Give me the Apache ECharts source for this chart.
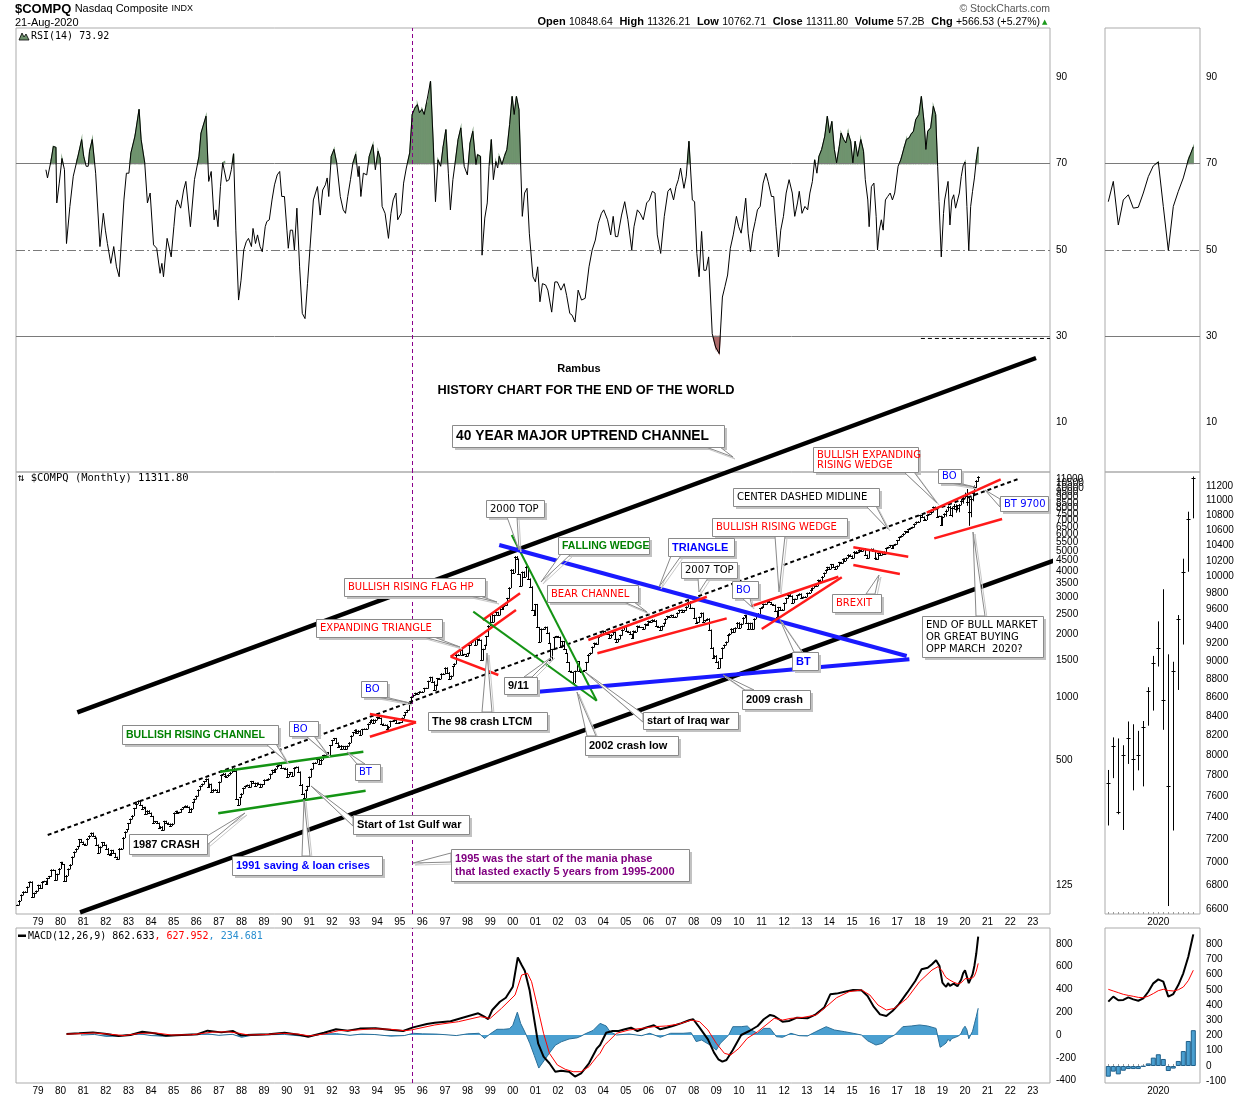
<!DOCTYPE html>
<html><head><meta charset="utf-8">
<script src="https://cdn.jsdelivr.net/npm/echarts@6.0.0/dist/echarts.min.js"></script>
<style>html,body{margin:0;padding:0;background:#fff}#c{width:1250px;height:1100px}</style>
</head><body><div id="c"></div>
<script>
// ---------------- DATA ----------------
const yearLabels = ['79','80','81','82','83','84','85','86','87','88','89','90','91','92','93','94','95','96','97','98','99','00','01','02','03','04','05','06','07','08','09','10','11','12','13','14','15','16','17','18','19','20','21','22','23'];
const firstLabelYear = 1979;
const priceTicks = [125,500,1000,1500,2000,2500,3000,3500,4000,4500,5000,5500,6000,6500,7000,7500,8000,8500,9000,9500,10000,10500,11000,11500];
const rsiTicks = [10,30,50,70,90];
const macdTicks = [-400,-200,0,200,400,600,800];
const miniPriceTicks = [6600,6800,7000,7200,7400,7600,7800,8000,8200,8400,8600,8800,9000,9200,9400,9600,9800,10000,10200,10400,10600,10800,11000,11200];
const miniMacdTicks = [-100,0,100,200,300,400,500,600,700,800];
const miniYearLabel = '2020';

// Monthly closes of $COMPQ, Feb 1978 .. Aug 2020
const closeStartYear = 1978, closeStartMonth = 2;
const closes = [
 101.0,106.2,113.0,117.0,116.1,123.4,130.0,130.5,110.1,115.2,118.0,
 125.8,121.4,130.8,131.4,127.6,135.5,138.6,149.0,148.0,132.9,142.1,151.1,
 161.8,158.0,131.0,139.9,150.5,157.8,171.8,181.5,187.8,192.8,208.2,202.3,
 197.8,196.3,210.2,216.7,223.5,215.8,211.6,196.0,180.0,192.0,201.4,195.8,
 188.4,178.3,175.7,184.7,178.5,171.3,167.4,188.3,188.0,212.6,226.4,232.4,
 248.4,260.7,270.8,293.1,308.7,318.7,303.0,292.4,296.7,274.9,285.7,278.6,
 268.4,250.8,253.8,249.2,234.9,239.7,230.8,254.6,249.9,247.0,242.5,247.4,
 278.7,284.2,279.2,280.6,290.8,296.2,301.3,297.7,280.3,292.5,313.9,324.9,
 335.8,359.5,374.7,383.2,394.3,405.5,371.4,382.9,350.7,360.8,359.6,349.3,
 392.1,424.0,430.1,417.8,416.5,424.7,434.9,454.8,444.3,323.3,305.2,330.5,
 344.7,366.6,374.6,379.2,370.3,394.7,387.3,376.6,387.7,382.5,371.5,381.4,
 401.3,399.7,406.7,427.5,446.2,435.3,453.8,469.3,472.9,455.6,456.1,454.8,
 415.8,425.8,435.5,420.1,458.9,462.3,438.2,381.2,344.5,329.8,359.1,373.8,
 414.2,453.1,482.3,484.7,506.1,475.9,502.0,525.7,526.9,542.9,523.9,586.3,
 620.2,633.5,603.8,578.7,585.3,563.6,580.8,563.1,583.3,605.2,652.7,677.0,
 696.3,670.8,690.1,661.4,700.5,703.9,704.7,742.8,762.8,779.3,754.4,777.0,
 800.5,792.5,743.5,733.8,735.2,706.0,722.2,765.6,764.3,777.5,750.3,752.0,
 755.2,793.7,817.2,843.9,864.6,933.5,1001.2,1020.1,1043.5,1036.1,1059.2,1052.1,
 1059.8,1100.1,1101.4,1190.5,1243.4,1185.0,1080.6,1141.5,1226.9,1221.5,1292.6,1291.0,
 1379.8,1309.0,1221.7,1260.8,1400.3,1442.1,1593.8,1587.3,1685.7,1593.6,1600.6,1570.4,
 1619.4,1770.5,1835.7,1868.4,1778.9,1894.7,1872.4,1499.3,1693.8,1771.4,1949.5,2192.7,
 2505.9,2288.0,2461.4,2542.9,2470.5,2686.1,2638.5,2739.4,2746.2,2966.4,3336.2,4069.3,
 3940.4,4696.7,4572.8,3860.7,3400.9,3966.1,3767.0,4206.4,3672.8,3369.6,2597.9,2470.5,
 2772.7,2151.8,1840.3,2116.2,2110.5,2160.5,2027.1,1805.4,1498.8,1690.2,1930.6,1950.4,
 1934.0,1731.5,1845.4,1688.2,1615.7,1463.2,1328.3,1314.9,1172.1,1329.8,1478.8,1335.5,
 1320.9,1337.5,1341.2,1464.3,1595.9,1622.8,1735.0,1810.5,1786.9,1932.2,1960.3,2003.4,
 2066.2,2029.8,1994.2,1920.2,1986.7,2047.8,1887.4,1838.1,1896.8,1975.0,2096.8,2175.4,
 2062.4,2051.7,1999.2,1921.7,2068.2,2057.0,2184.8,2152.1,2151.7,2120.3,2232.8,2205.3,
 2305.8,2281.4,2339.8,2322.6,2178.9,2172.1,2091.5,2183.8,2258.4,2366.7,2431.8,2415.3,
 2463.9,2416.2,2421.6,2525.1,2604.5,2603.2,2546.3,2596.4,2701.5,2859.1,2661.0,2652.3,
 2389.9,2271.5,2279.1,2412.8,2522.7,2293.0,2325.6,2367.5,2091.9,1721.0,1535.6,1577.0,
 1476.4,1377.8,1528.6,1717.3,1774.3,1835.0,1979.0,2009.1,2122.4,2045.1,2144.6,2269.2,
 2147.4,2238.3,2398.0,2461.2,2257.0,2109.2,2254.7,2114.0,2368.6,2507.4,2498.2,2652.9,
 2700.1,2782.3,2781.1,2873.5,2835.3,2773.5,2756.4,2579.5,2415.4,2684.4,2620.3,2605.2,
 2813.8,2966.9,3091.6,3046.4,2827.3,2935.1,2939.5,3067.0,3116.2,2977.2,3010.2,3019.5,
 3142.1,3160.2,3267.5,3328.8,3455.9,3403.3,3626.4,3589.9,3771.5,3919.7,4059.9,4176.6,
 4103.9,4308.1,4199.0,4114.6,4242.6,4408.2,4369.8,4580.3,4493.4,4630.7,4791.6,4736.1,
 4635.2,4963.5,4900.9,4941.4,5070.0,4986.9,5128.3,4776.5,4620.2,5053.8,5108.7,5007.4,
 4614.0,4558.0,4869.9,4775.4,4948.1,4842.7,5162.1,5213.2,5312.0,5189.1,5323.7,5383.1,
 5614.8,5825.4,5911.7,6047.6,6198.5,6140.4,6348.1,6428.7,6496.0,6727.7,6874.0,6903.4,
 7411.5,7273.0,7063.4,7066.3,7442.1,7510.3,7671.8,8109.5,8046.4,7305.9,7330.5,6635.3,
 7281.7,7532.5,7729.3,8095.4,7453.2,8006.2,8175.4,7962.9,7999.3,8292.4,8665.5,8972.6,
 9150.9,8567.4,7700.1,8889.6,9489.9,10058.8,10745.3,11311.8
];
// Last 18 months (Mar 2019 .. Aug 2020) full bars
const recentOpen = [7480,7830,8100,7400,8092,8190,7907,8016,8318,8675,9039,9188,8667,7459,8740,9382,10105,10848.6];
const recentHigh = [7850,8176,8165,8096,8340,8311,8243,8345,8705,9052,9451,9838,9070,8986,9526,10221,10839,11326.2];
const recentLow  = [7333,7780,7437,7292,7919,7662,7856,7700,8307,8465,8944,8264,6631,7287,8686,9193,10068,10762.7];

// RSI(14): [year, value]
const rsiPairs = [[1979.35,68.6],[1979.42,66.7],[1979.57,70.5],[1979.68,74.0],[1979.79,73.8],[1979.83,60.9],[1979.94,65.5],[1980.06,71.2],[1980.17,68.6],[1980.26,51.5],[1980.41,60.1],[1980.56,67.1],[1980.70,70.2],[1980.82,72.9],[1980.93,75.6],[1981.02,71.7],[1981.13,69.4],[1981.22,69.4],[1981.28,72.9],[1981.40,75.6],[1981.55,67.8],[1981.74,50.8],[1981.89,58.5],[1981.98,54.6],[1982.07,51.5],[1982.22,46.9],[1982.35,50.8],[1982.47,46.1],[1982.59,43.8],[1982.80,61.6],[1982.91,67.8],[1983.02,67.8],[1983.11,72.5],[1983.29,76.4],[1983.47,82.6],[1983.56,75.6],[1983.72,70.2],[1983.84,60.9],[1983.96,63.2],[1984.11,51.2],[1984.25,50.4],[1984.40,44.6],[1984.48,46.9],[1984.55,43.8],[1984.71,52.7],[1984.89,48.4],[1985.01,55.4],[1985.09,60.1],[1985.16,61.6],[1985.31,59.7],[1985.44,63.9],[1985.54,65.9],[1985.74,55.4],[1985.92,66.3],[1986.12,71.7],[1986.21,77.1],[1986.43,81.0],[1986.55,65.9],[1986.66,68.2],[1986.79,57.0],[1986.87,59.3],[1986.96,55.4],[1987.07,64.7],[1987.17,70.2],[1987.25,70.5],[1987.34,65.9],[1987.45,66.3],[1987.55,68.6],[1987.65,72.3],[1987.75,54.6],[1987.87,38.4],[1987.98,43.0],[1988.10,50.0],[1988.21,51.9],[1988.31,52.7],[1988.44,50.8],[1988.51,55.0],[1988.62,51.5],[1988.71,53.5],[1988.82,50.8],[1988.92,49.6],[1989.05,55.4],[1989.12,56.6],[1989.23,57.0],[1989.35,61.6],[1989.46,65.1],[1989.58,67.4],[1989.69,68.2],[1989.78,62.4],[1989.90,62.4],[1990.01,54.6],[1990.07,50.4],[1990.16,54.6],[1990.26,54.6],[1990.34,50.0],[1990.45,59.7],[1990.57,46.1],[1990.69,35.3],[1990.81,34.1],[1990.92,42.2],[1991.03,50.4],[1991.18,61.6],[1991.36,64.7],[1991.48,58.1],[1991.59,63.9],[1991.71,65.1],[1991.79,66.7],[1991.86,62.4],[1991.97,71.7],[1992.09,73.3],[1992.21,70.2],[1992.37,62.4],[1992.50,59.3],[1992.60,58.5],[1992.70,62.4],[1992.82,66.3],[1992.93,70.2],[1993.05,72.2],[1993.16,67.0],[1993.20,69.4],[1993.28,62.4],[1993.39,67.8],[1993.54,67.4],[1993.65,71.7],[1993.81,74.4],[1993.92,68.6],[1994.04,72.9],[1994.13,71.3],[1994.22,60.1],[1994.35,58.5],[1994.50,52.7],[1994.61,58.5],[1994.71,61.6],[1994.83,63.2],[1994.91,57.0],[1995.06,58.5],[1995.17,65.5],[1995.29,69.0],[1995.44,72.5],[1995.55,81.4],[1995.67,82.9],[1995.78,83.7],[1995.87,81.8],[1995.98,82.6],[1996.08,81.4],[1996.17,83.7],[1996.25,84.1],[1996.36,89.1],[1996.48,74.8],[1996.58,61.2],[1996.69,70.9],[1996.81,69.4],[1996.92,74.0],[1997.04,77.9],[1997.15,67.8],[1997.24,59.3],[1997.35,66.3],[1997.45,70.2],[1997.58,75.6],[1997.70,78.3],[1997.85,69.4],[1997.99,67.4],[1998.11,74.8],[1998.23,77.5],[1998.37,69.8],[1998.44,72.1],[1998.57,71.7],[1998.64,48.8],[1998.76,57.4],[1998.87,60.9],[1998.95,69.4],[1999.05,75.6],[1999.14,66.3],[1999.25,70.5],[1999.33,69.0],[1999.40,71.7],[1999.52,69.8],[1999.63,71.7],[1999.74,73.3],[1999.86,79.1],[1999.97,85.6],[2000.06,81.4],[2000.16,85.6],[2000.27,82.6],[2000.42,57.8],[2000.52,63.2],[2000.63,64.3],[2000.73,53.9],[2000.89,43.8],[2001.00,42.6],[2001.10,46.1],[2001.20,38.0],[2001.31,42.2],[2001.45,41.9],[2001.55,40.7],[2001.72,35.6],[2001.86,42.6],[2001.97,42.6],[2002.13,40.7],[2002.27,42.2],[2002.38,39.5],[2002.52,35.3],[2002.62,34.9],[2002.75,33.3],[2002.89,40.7],[2003.04,38.4],[2003.20,38.8],[2003.37,46.1],[2003.51,50.0],[2003.65,52.3],[2003.78,56.2],[2003.92,58.5],[2004.02,59.3],[2004.19,57.0],[2004.33,53.5],[2004.44,57.8],[2004.54,53.1],[2004.64,53.1],[2004.81,58.1],[2004.95,61.2],[2005.09,57.0],[2005.26,50.0],[2005.36,55.4],[2005.51,59.3],[2005.63,58.5],[2005.77,57.0],[2005.92,60.9],[2006.04,61.6],[2006.17,63.6],[2006.29,63.2],[2006.39,53.5],[2006.54,49.2],[2006.70,57.8],[2006.86,63.6],[2006.97,64.3],[2007.11,61.6],[2007.22,64.7],[2007.32,66.3],[2007.42,69.0],[2007.57,64.3],[2007.67,67.1],[2007.79,75.2],[2007.94,61.6],[2008.04,61.2],[2008.14,49.2],[2008.24,43.8],[2008.35,54.3],[2008.45,45.3],[2008.55,45.3],[2008.66,48.4],[2008.82,30.6],[2008.97,27.5],[2009.13,26.0],[2009.27,39.1],[2009.38,41.5],[2009.50,44.2],[2009.62,50.4],[2009.75,53.5],[2009.89,57.8],[2009.99,55.4],[2010.10,53.9],[2010.20,57.4],[2010.30,62.0],[2010.41,53.9],[2010.51,49.6],[2010.61,53.9],[2010.72,56.6],[2010.82,59.3],[2010.94,60.1],[2011.07,65.5],[2011.19,67.8],[2011.29,65.9],[2011.44,62.4],[2011.54,62.4],[2011.64,55.4],[2011.75,48.4],[2011.85,54.6],[2011.97,57.8],[2012.09,63.2],[2012.22,66.3],[2012.36,63.2],[2012.47,57.8],[2012.59,60.9],[2012.67,63.6],[2012.79,58.5],[2012.92,60.1],[2013.04,59.3],[2013.14,63.2],[2013.25,65.9],[2013.35,70.9],[2013.45,67.8],[2013.54,71.7],[2013.66,73.3],[2013.80,76.4],[2013.91,81.0],[2014.01,77.1],[2014.11,79.8],[2014.22,73.3],[2014.32,70.2],[2014.44,74.0],[2014.52,77.1],[2014.63,75.6],[2014.73,74.8],[2014.83,77.1],[2014.94,75.2],[2015.04,70.2],[2015.14,75.2],[2015.25,71.7],[2015.39,75.6],[2015.51,72.9],[2015.59,66.3],[2015.70,61.6],[2015.76,55.4],[2015.86,64.7],[2015.97,65.5],[2016.07,57.8],[2016.13,50.0],[2016.21,54.6],[2016.30,57.0],[2016.38,54.6],[2016.48,61.6],[2016.58,62.4],[2016.69,63.2],[2016.79,61.6],[2016.89,63.2],[2017.04,69.4],[2017.16,70.9],[2017.30,73.6],[2017.41,75.6],[2017.53,76.0],[2017.61,76.8],[2017.72,77.5],[2017.82,80.2],[2017.96,81.4],[2018.07,85.6],[2018.19,79.5],[2018.27,73.3],[2018.35,77.5],[2018.48,78.3],[2018.60,83.3],[2018.70,81.4],[2018.79,69.4],[2018.85,61.2],[2018.95,48.4],[2019.05,58.5],[2019.10,61.6]];
const rsiRecent = [61.2,65.9,55.8,61.6,62.8,59.7,59.9,63.2,67.0,69.5,70.4,60.1,49.9,60.1,63.6,66.7,70.9,73.9];

// MACD(12,26,9): [year, value]
const macdPairs = [[1980.26,9],[1980.82,15],[1981.43,23],[1982.04,9],[1982.56,-9],[1983.09,0],[1983.61,29],[1984.14,15],[1984.66,-6],[1985.36,0],[1986.06,6],[1986.5,38],[1987.11,23],[1987.63,35],[1987.98,-3],[1988.51,3],[1989.21,6],[1989.91,20],[1990.6,0],[1990.95,-15],[1991.65,20],[1992.18,50],[1992.7,38],[1993.23,56],[1993.93,59],[1994.63,44],[1995.15,35],[1995.59,67],[1996.2,97],[1996.55,108],[1997.25,120],[1997.78,152],[1998.47,190],[1998.74,161],[1998.91,140],[1999.09,219],[1999.43,292],[1999.69,327],[2000.0,424],[2000.22,681],[2000.39,614],[2000.53,564],[2000.74,395],[2000.95,132],[2001.12,-73],[2001.36,-190],[2001.62,-248],[2001.88,-322],[2002.14,-313],[2002.49,-322],[2002.75,-365],[2003.02,-336],[2003.37,-248],[2003.72,-117],[2003.86,-88],[2004.13,20],[2004.41,35],[2004.68,35],[2004.96,50],[2005.23,64],[2005.51,35],[2005.87,64],[2006.24,85],[2006.52,50],[2006.79,64],[2007.07,79],[2007.43,102],[2007.8,129],[2007.98,138],[2008.26,64],[2008.63,-38],[2008.9,-155],[2009.09,-213],[2009.27,-234],[2009.45,-219],[2009.73,-132],[2010.1,0],[2010.46,35],[2010.83,79],[2011.1,138],[2011.38,176],[2011.56,167],[2011.93,117],[2012.21,123],[2012.57,152],[2013.03,146],[2013.4,181],[2013.77,240],[2014.04,357],[2014.32,363],[2014.68,380],[2015.05,395],[2015.42,392],[2015.69,342],[2015.97,246],[2016.24,181],[2016.52,167],[2016.79,211],[2017.07,269],[2017.44,371],[2017.8,474],[2018.08,576],[2018.35,590],[2018.54,620],[2018.72,655],[2018.87,605],[2019.0,459],[2019.08,440]];
const signalPairs = [[1980.26,8],[1980.9,12],[1981.5,18],[1982.2,6],[1982.8,-5],[1983.5,14],[1984.2,18],[1984.9,0],[1985.8,2],[1986.7,25],[1987.4,28],[1987.9,15],[1988.3,0],[1989.0,3],[1989.8,15],[1990.5,8],[1991.0,-8],[1991.7,10],[1992.3,38],[1993.0,42],[1993.8,55],[1994.6,50],[1995.2,38],[1995.5,44],[1996.55,88],[1997.6,117],[1998.56,161],[1999.0,146],[1999.5,234],[2000.1,351],[2000.39,526],[2000.65,541],[2000.83,468],[2001.09,249],[2001.36,15],[2001.62,-161],[2001.97,-263],[2002.32,-301],[2002.67,-322],[2003.02,-322],[2003.37,-278],[2003.72,-190],[2003.86,-160],[2004.06,-88],[2004.22,-58],[2004.59,15],[2005.14,44],[2005.69,58],[2006.24,73],[2006.79,79],[2007.34,96],[2007.89,131],[2008.26,117],[2008.63,44],[2009.0,-73],[2009.36,-161],[2009.64,-175],[2010.0,-117],[2010.37,-29],[2010.83,29],[2011.2,88],[2011.56,146],[2011.93,131],[2012.3,146],[2012.85,155],[2013.4,175],[2013.86,248],[2014.32,327],[2014.87,380],[2015.42,395],[2015.79,351],[2016.15,263],[2016.52,219],[2016.89,234],[2017.44,322],[2017.99,468],[2018.54,570],[2018.81,600],[2019.0,560],[2019.08,528]];
const histPairs = [[1980.9,0],[1981.5,5],[1982.0,-12],[1982.5,-10],[1983.0,2],[1983.5,10],[1984.0,-5],[1984.5,-10],[1985.3,-2],[1986.0,3],[1986.5,10],[1987.0,-3],[1987.6,6],[1988.0,-20],[1988.4,-5],[1989.0,2],[1989.9,5],[1990.6,-8],[1991.0,-10],[1991.6,8],[1992.2,12],[1992.8,-3],[1993.3,8],[1993.9,4],[1994.6,-10],[1995.2,-5],[1995.6,15],[1996.0,10],[1996.6,8],[1997.0,3],[1997.5,-5],[1998.0,10],[1998.5,15],[1998.75,-30],[1999.0,10],[1999.3,50],[1999.6,50],[1999.85,55],[2000.0,85],[2000.2,200],[2000.35,100],[2000.55,20],[2000.75,-73],[2000.95,-180],[2001.15,-290],[2001.4,-220],[2001.65,-150],[2001.88,-90],[2002.14,-60],[2002.49,-35],[2002.84,-25],[2003.02,-10],[2003.2,10],[2003.55,40],[2003.86,102],[2004.13,79],[2004.3,29],[2004.59,0],[2005.14,9],[2005.69,-6],[2006.06,15],[2006.52,-20],[2006.98,15],[2007.53,15],[2007.89,20],[2008.11,-58],[2008.35,-44],[2008.72,-88],[2009.0,-132],[2009.18,-73],[2009.55,0],[2009.73,73],[2010.1,73],[2010.37,79],[2010.55,44],[2010.83,15],[2011.1,58],[2011.38,58],[2011.66,-15],[2011.93,-20],[2012.3,15],[2012.66,-6],[2013.03,-9],[2013.4,29],[2013.86,73],[2014.22,44],[2014.68,29],[2015.05,15],[2015.42,0],[2015.69,-50],[2016.06,-88],[2016.34,-73],[2016.61,-29],[2016.89,0],[2017.25,73],[2017.62,79],[2017.99,88],[2018.35,79],[2018.72,58],[2018.9,-108],[2019.0,-95],[2019.08,-85]];
const macdRecent   = [422,455,431,433,450,437,428,444,487,542,568,553,455,472,531,608,717,863];
const signalRecent = [503,492,481,470,463,457,450,448,458,475,494,503,495,492,500,518,560,628];
const histRecent   = [-70,-37,-55,-31,-20,-20,-20,-4,17,55,77,46,-33,-17,33,98,164,235];

// Hand-drawn trendlines on the price panel: [year, price]
const channelUpper = [[1980.74,845],[2023.14,41880]];
const channelLower = [[1980.86,93.3],[2024.2,4609]];
const centerMidline = [[1979.43,218.6],[2022.43,11129]];
const greenChannelUp = [[1987.05,439.2],[1993.39,547.3]];
const greenChannelLow = [[1986.97,277.7],[1993.49,356.1]];
const tri94Up = [[1993.68,829],[1995.72,756.6]];
const tri94Low = [[1993.68,645.7],[1995.72,756.6]];
const expTriUp = [[1997.25,1558.9],[2000.14,2608]];
const expTriLow = [[1997.25,1558.9],[1999.36,1274]];
const flagUp = [[1998.67,2335],[2000.32,3134]];
const fallWedgeA = [[1999.95,5960],[2003.71,960]];
const fallWedgeB = [[1998.25,2560],[2003.71,960]];
const triangleUp = [[1999.40,5337],[2017.42,1571]];
const triangleLow = [[2001.13,1060],[2017.54,1515]];
const bearUp = [[2003.34,1874],[2008.58,3019]];
const bearLow = [[2003.74,1619],[2009.46,2379]];
const wedgeUp = [[2010.57,2725],[2014.40,3764]];
const wedgeLow = [[2011.01,2115],[2014.55,3738]];
const brexitUp = [[2015.06,5203],[2017.49,4692]];
const brexitLow = [[2015.06,4280],[2017.12,3877]];
const expWedgeUp = [[2018.31,7617],[2021.58,11006]];
const expWedgeLow = [[2018.64,5744],[2021.64,7106]];
const maniaStartYear = 1995.54;
const rsiMarkLine = [[2018.05,29.5],[2023.76,29.5]];

// ---------------- BUILD ----------------
const L = Math.log10;
const monthX = i => closeStartYear + (closeStartMonth - 1 + i) / 12;
const recentStart = closes.length - recentOpen.length;
const recentX = i => monthX(recentStart + i);

const priceData = closes.map((c, i) => {
  const r = i - recentStart;
  const prev = i > 0 ? closes[i - 1] : c;
  const lo = r >= 0 ? recentLow[r] : Math.min(prev, c);
  const hi = r >= 0 ? recentHigh[r] : Math.max(prev, c);
  return [monthX(i), L(lo), L(hi), L(c)];
});
const miniPriceData = recentOpen.map((o, i) => [i, L(recentLow[i]), L(recentHigh[i]), L(closes[recentStart + i])]);

const rsiAll = rsiPairs.concat(rsiRecent.map((v, i) => [recentX(i), v]));
const macdAll = macdPairs.concat(macdRecent.map((v, i) => [recentX(i), v]));
const signalAll = signalPairs.concat(signalRecent.map((v, i) => [recentX(i), v]));
const histAll = histPairs.concat(histRecent.map((v, i) => [recentX(i), v]));

const X0 = 1978.027, X1 = 2023.759;
const FONT = 'Liberation Sans';

function ohlcRender(tick) {
  return function (params, api) {
    const x = api.value(0);
    const a = api.coord([x, api.value(2)]);
    const b = api.coord([x, api.value(1)]);
    const c = api.coord([x, api.value(3)]);
    const px = Math.round(a[0]) + 0.5;
    return { type: 'group', children: [
      { type: 'line', shape: { x1: px, y1: a[1] - 0.5, x2: px, y2: b[1] + 0.5 }, style: { stroke: '#000', lineWidth: 1 } },
      { type: 'line', shape: { x1: px - tick, y1: Math.round(c[1]) + 0.5, x2: px + tick, y2: Math.round(c[1]) + 0.5 }, style: { stroke: '#000', lineWidth: 1 } }
    ]};
  };
}

// fill between the RSI line and a level (above 70 / below 30), segment by segment
function rsiFill(data, xi, yi, level, above, color) {
  const segs = [];
  for (let i = 0; i < data.length - 1; i++) segs.push([data[i][0], data[i][1], data[i + 1][0], data[i + 1][1]]);
  return { type: 'custom', xAxisIndex: xi, yAxisIndex: yi, data: segs, silent: true, z: 1, encode: { x: [0, 2], y: [1, 3] },
    renderItem: function (params, api) {
      const x1 = api.value(0), v1 = api.value(1), x2 = api.value(2), v2 = api.value(3);
      const d1 = above ? v1 - level : level - v1, d2 = above ? v2 - level : level - v2;
      if (d1 <= 0 && d2 <= 0) return { type: 'group', children: [] };
      let pts;
      if (d1 > 0 && d2 > 0) pts = [[x1, level], [x1, v1], [x2, v2], [x2, level]];
      else {
        const xc = x1 + (d1 / (d1 - d2)) * (x2 - x1);
        pts = d1 > 0 ? [[x1, level], [x1, v1], [xc, level]] : [[xc, level], [x2, v2], [x2, level]];
      }
      return { type: 'polygon', shape: { points: pts.map(p => api.coord(p)) }, style: { fill: color, stroke: color, lineWidth: 1.2 } };
    } };
}

function rsiSeries(data, xi, yi, withMark) {
  return [
    rsiFill(data, xi, yi, 70, true, '#6f936e'),
    rsiFill(data, xi, yi, 30, false, '#ad6a6a'),
    { type: 'line', xAxisIndex: xi, yAxisIndex: yi, symbol: 'none', showSymbol: false, silent: true, data: data, lineStyle: { color: '#000', width: 1 }, z: 5,
      markLine: { symbol: 'none', silent: true, label: { show: false }, animation: false,
        data: [
          { yAxis: 70, lineStyle: { color: '#7a7a7a', width: 1, type: 'solid' } },
          { yAxis: 30, lineStyle: { color: '#7a7a7a', width: 1, type: 'solid' } },
          { yAxis: 50, lineStyle: { color: '#7a7a7a', width: 1, type: [9, 3, 2, 3] } }
        ].concat(withMark ? [{ xAxis: maniaStartYear, lineStyle: { color: '#8b008b', width: 1, type: [4, 3] } }] : [])
      } }
  ];
}

const trendDefs = [
  [channelUpper, '#000', 4.5, 'solid'], [channelLower, '#000', 4.5, 'solid'],
  [centerMidline, '#000', 2, [4, 3]],
  [greenChannelUp, '#149414', 2.5, 'solid'], [greenChannelLow, '#149414', 2.5, 'solid'],
  [tri94Up, '#ff1a1a', 2.5, 'solid'], [tri94Low, '#ff1a1a', 2.5, 'solid'],
  [expTriUp, '#ff1a1a', 2.5, 'solid'], [expTriLow, '#ff1a1a', 2.5, 'solid'], [flagUp, '#ff1a1a', 2.5, 'solid'],
  [fallWedgeA, '#149414', 2, 'solid'], [fallWedgeB, '#149414', 2, 'solid'],
  [triangleUp, '#1a1aff', 4, 'solid'], [triangleLow, '#1a1aff', 4, 'solid'],
  [bearUp, '#ff1a1a', 2.5, 'solid'], [bearLow, '#ff1a1a', 2.5, 'solid'],
  [wedgeUp, '#ff1a1a', 2.5, 'solid'], [wedgeLow, '#ff1a1a', 2.5, 'solid'],
  [brexitUp, '#ff1a1a', 2.5, 'solid'], [brexitLow, '#ff1a1a', 2.5, 'solid'],
  [expWedgeUp, '#ff1a1a', 2.5, 'solid'], [expWedgeLow, '#ff1a1a', 2.5, 'solid']
];
const trendSeries = trendDefs.map((d, k) => ({
  type: 'line', xAxisIndex: 1, yAxisIndex: 1, clip: false, symbol: 'none', silent: true, z: 6,
  data: d[0].map(p => [p[0], L(p[1])]),
  lineStyle: { color: d[1], width: d[2], type: d[3], cap: 'butt' },
  markLine: k === 0 ? { symbol: 'none', silent: true, label: { show: false }, animation: false,
    data: [{ xAxis: maniaStartYear, lineStyle: { color: '#8b008b', width: 1, type: [4, 3] } }] } : undefined
}));

const grids = [
  { left: 16, top: 28, width: 1034, height: 444 },
  { left: 16, top: 472, width: 1034, height: 442 },
  { left: 16, top: 928, width: 1034, height: 155 },
  { left: 1105, top: 28, width: 95, height: 444 },
  { left: 1105, top: 472, width: 95, height: 442 },
  { left: 1105, top: 928, width: 95, height: 155 }
].map(g => Object.assign(g, { show: true, borderColor: '#ababab', borderWidth: 1, backgroundColor: 'transparent', containLabel: false, outerBoundsMode: 'none' }));

const yearVals = yearLabels.map((s, i) => firstLabelYear + i);
const labelStyle = { color: '#000', fontSize: 10, fontFamily: FONT };
function xMain(i, labels) {
  return { type: 'value', gridIndex: i, min: X0, max: X1, splitLine: { show: false }, axisLine: { show: false }, axisTick: { show: false },
    axisLabel: labels ? Object.assign({ show: true, margin: 3, customValues: yearVals, formatter: v => yearLabels[Math.round(v) - firstLabelYear] }, labelStyle) : { show: false } };
}
function xMini(i, labels) {
  return { type: 'value', gridIndex: i, min: -0.66, max: 18.34, splitLine: { show: false }, axisLine: { show: false },
    axisTick: labels ? { show: true, inside: true, length: 2, customValues: recentOpen.map((o, k) => k), lineStyle: { color: '#999' } } : { show: false },
    axisLabel: labels ? Object.assign({ show: true, margin: 3, customValues: [10], formatter: () => miniYearLabel }, labelStyle) : { show: false } };
}
function yAx(i, min, max, vals, fmt) {
  return { type: 'value', gridIndex: i, position: 'right', min: min, max: max, splitLine: { show: false }, axisLine: { show: false }, axisTick: { show: false },
    axisLabel: Object.assign({ show: true, margin: 6, customValues: vals, formatter: fmt }, labelStyle) };
}
const logFmt = v => String(Math.round(Math.pow(10, v)));

// ---------------- ANNOTATIONS ----------------
const N = '10px "DejaVu Sans"';
const B11 = 'bold 11px "Liberation Sans"';
const notes = [
 {t:'40 YEAR MAJOR UPTREND CHANNEL', x:452,y:425,w:272,h:22,c:'#000',f:'bold 13.8px "Liberation Sans"', tail:[[706,447],[720,447],[733,457]]},
 {t:'2000 TOP', x:486,y:500,w:58,h:17,c:'#000',f:N, tail:[[507,517],[517,517],[519,550]]},
 {t:'FALLING WEDGE', x:558,y:537,w:91,h:17,c:'#008000',f:'bold 10.5px "Liberation Sans"', tail:[[561,554],[571,554],[541,582]]},
 {t:'TRIANGLE', x:668,y:538,w:66,h:18,c:'#0000ff',f:'bold 11px "Liberation Sans"', tail:[[671,556],[681,556],[659,587]]},
 {t:'BULLISH RISING WEDGE', x:712,y:518,w:135,h:18,c:'#ff0000',f:N, tail:[[775,536],[785,536],[779,592]]},
 {t:'CENTER DASHED MIDLINE', x:733,y:488,w:146,h:18,c:'#000',f:N, tail:[[866,506],[876,506],[888,529]]},
 {t:'BULLISH EXPANDING\nRISING WEDGE', x:813,y:447,w:105,h:25,c:'#ff0000',f:N,lh:10, tail:[[904,472],[914,472],[937,503]]},
 {t:'BO', x:938,y:469,w:23,h:14,c:'#0000ff',f:N, tail:[[950,483],[958,483],[975,487]]},
 {t:'BT 9700', x:1000,y:496,w:48,h:15,c:'#0000ff',f:N, tail:[[1000,499],[1000,507],[985,490]]},
 {t:'2007 TOP', x:681,y:562,w:56,h:16,c:'#000',f:N, tail:[[698,578],[708,578],[699,592]]},
 {t:'BO', x:732,y:581,w:26,h:17,c:'#0000ff',f:N, tail:[[742,598],[750,598],[752,607]]},
 {t:'BULLISH RISING FLAG HP', x:344,y:578,w:141,h:18,c:'#ff0000',f:N, tail:[[470,596],[480,596],[497,602]]},
 {t:'BEAR CHANNEL', x:547,y:585,w:91,h:17,c:'#ff0000',f:N, tail:[[624,602],[634,602],[647,612]]},
 {t:'BREXIT', x:832,y:594,w:49,h:18,c:'#ff0000',f:N, tail:[[866,594],[875,594],[879,575]]},
 {t:'EXPANDING TRIANGLE', x:316,y:619,w:126,h:18,c:'#ff0000',f:N, tail:[[424,637],[434,637],[460,647]]},
 {t:'END OF BULL MARKET\nOR GREAT BUYING\nOPP MARCH  2020?', x:922,y:616,w:121,h:41,c:'#000',f:N,lh:12, tail:[[976,616],[985,616],[973,532]]},
 {t:'BT', x:792,y:652,w:26,h:18,c:'#0000ff',f:'bold 11px "Liberation Sans"', tail:[[794,652],[802,652],[780,620]]},
 {t:'9/11', x:504,y:677,w:33,h:17,c:'#000',f:B11, tail:[[524,677],[532,677],[553,656]]},
 {t:'BO', x:361,y:681,w:26,h:16,c:'#0000ff',f:N, tail:[[377,697],[385,697],[410,703]]},
 {t:'2009 crash', x:742,y:690,w:68,h:19,c:'#000',f:B11, tail:[[745,690],[754,690],[723,675]]},
 {t:'The 98 crash LTCM', x:428,y:712,w:119,h:18,c:'#000',f:B11, tail:[[482,712],[492,712],[487,653]]},
 {t:'start of Iraq war', x:643,y:712,w:95,h:17,c:'#000',f:B11, tail:[[643,714],[643,722],[585,672]]},
 {t:'BO', x:289,y:721,w:29,h:15,c:'#0000ff',f:N, tail:[[306,736],[314,736],[328,755]]},
 {t:'BULLISH RISING CHANNEL', x:122,y:725,w:156,h:19,c:'#008000',f:'bold 10.5px "Liberation Sans"', tail:[[266,744],[276,744],[287,762]]},
 {t:'2002 crash low', x:585,y:736,w:93,h:19,c:'#000',f:B11, tail:[[587,736],[596,736],[577,692]]},
 {t:'BT', x:355,y:764,w:25,h:16,c:'#0000ff',f:N, tail:[[357,764],[365,764],[347,752]]},
 {t:'Start of 1st Gulf war', x:353,y:815,w:116,h:19,c:'#000',f:B11, tail:[[353,818],[353,826],[311,786]]},
 {t:'1987 CRASH', x:129,y:834,w:78,h:20,c:'#000',f:'bold 11px "Liberation Sans"', tail:[[207,836],[207,845],[245,813]]},
 {t:'1991 saving & loan crises', x:232,y:856,w:150,h:19,c:'#0000ff',f:B11, tail:[[302,856],[310,856],[304,800]]},
 {t:'1995 was the start of the mania phase\nthat lasted exactly 5 years from 1995-2000', x:451,y:849,w:238,h:32,c:'#800080',f:B11,lh:13, tail:[[451,853],[451,862],[413,863]]}
];
const gfx = [];
notes.forEach(n => {
  const [b1, b2, tip] = n.tail;
  gfx.push({ type: 'polyline', z: 50, shape: { points: [[b1[0]+2,b1[1]+2],[tip[0]+2,tip[1]+2],[b2[0]+2,b2[1]+2]] }, style: { fill: null, stroke: '#c8c8c8', lineWidth: 1 } });
  gfx.push({ type: 'rect', z: 50, shape: { x: n.x + 3, y: n.y + 3, width: n.w, height: n.h }, style: { fill: '#c2c2c2' } });
  gfx.push({ type: 'polygon', z: 51, shape: { points: [b1, tip, b2] }, style: { fill: '#fff', stroke: '#8a8a8a', lineWidth: 1 } });
  gfx.push({ type: 'rect', z: 52, shape: { x: n.x + 0.5, y: n.y + 0.5, width: n.w, height: n.h }, style: { fill: '#fff', stroke: '#8a8a8a', lineWidth: 1 } });
  gfx.push({ type: 'text', z: 53, style: { text: n.t, x: n.x + 4, y: n.y + n.h / 2 + 0.5, font: n.f, fill: n.c, align: 'left', verticalAlign: 'middle', textAlign: 'left', textVerticalAlign: 'middle', lineHeight: n.lh || 14 } });
});
// Titles & labels
gfx.push({ type: 'text', z: 60, style: { text: 'Rambus', x: 579, y: 369, font: 'bold 11px "Liberation Sans"', fill: '#000', align: 'center', verticalAlign: 'middle', textAlign: 'center', textVerticalAlign: 'middle' } });
gfx.push({ type: 'text', z: 60, style: { text: 'HISTORY CHART FOR THE END OF THE WORLD', x: 586, y: 390, font: 'bold 12.8px "Liberation Sans"', fill: '#000', align: 'center', verticalAlign: 'middle', textAlign: 'center', textVerticalAlign: 'middle' } });
gfx.push({ type: 'text', z: 60, style: { x: 15, y: 9, verticalAlign: 'middle', textVerticalAlign: 'middle',
  text: '{a|$COMPQ} {b|Nasdaq Composite} {c|INDX}',
  rich: { a: { font: 'bold 13px "Liberation Sans"', fill: '#000' }, b: { font: '11px "Liberation Sans"', fill: '#000' }, c: { font: '9px "Liberation Sans"', fill: '#000' } } } });
gfx.push({ type: 'text', z: 60, style: { text: '21-Aug-2020', x: 15, y: 23, font: '11px "Liberation Sans"', fill: '#000', verticalAlign: 'middle', textVerticalAlign: 'middle' } });
gfx.push({ type: 'text', z: 60, style: { x: 1040, y: 22, align: 'right', textAlign: 'right', verticalAlign: 'middle', textVerticalAlign: 'middle',
  text: '{b|Open} {v|10848.64}  {b|High} {v|11326.21}  {b|Low} {v|10762.71}  {b|Close} {v|11311.80}  {b|Volume} {v|57.2B}  {b|Chg} {v|+566.53 (+5.27%)}',
  rich: { b: { font: 'bold 11px "Liberation Sans"', fill: '#000' }, v: { font: '10.5px "Liberation Sans"', fill: '#000' } } } });
gfx.push({ type: 'text', z: 60, style: { text: '▲', x: 1042, y: 22, font: '7px "DejaVu Sans"', fill: '#1a9a1a', verticalAlign: 'middle', textVerticalAlign: 'middle' } });
gfx.push({ type: 'text', z: 60, style: { text: '© StockCharts.com', x: 1050, y: 9, font: '10.5px "Liberation Sans"', fill: '#555', align: 'right', textAlign: 'right', verticalAlign: 'middle', textVerticalAlign: 'middle' } });
gfx.push({ type: 'polygon', z: 60, shape: { points: [[19,40],[22,33],[24,37],[26,34],[29,40]] }, style: { fill: '#6f936e', stroke: '#000', lineWidth: 0.8 } });
gfx.push({ type: 'text', z: 60, style: { text: 'RSI(14) 73.92', x: 31, y: 36, font: '10px "DejaVu Sans Mono"', fill: '#000', verticalAlign: 'middle', textVerticalAlign: 'middle' } });
gfx.push({ type: 'text', z: 60, style: { text: '⇅ $COMPQ (Monthly) 11311.80', x: 18, y: 478, font: '10.5px "DejaVu Sans Mono"', fill: '#000', verticalAlign: 'middle', textVerticalAlign: 'middle' } });
gfx.push({ type: 'rect', z: 60, shape: { x: 18, y: 934.5, width: 8, height: 2.5 }, style: { fill: '#000' } });
gfx.push({ type: 'text', z: 60, style: { x: 28, y: 936, verticalAlign: 'middle', textVerticalAlign: 'middle',
  text: '{k|MACD(12,26,9) 862.633}{r|, 627.952}{u|, 234.681}',
  rich: { k: { font: '10px "DejaVu Sans Mono"', fill: '#000' }, r: { font: '10px "DejaVu Sans Mono"', fill: '#ff0000' }, u: { font: '10px "DejaVu Sans Mono"', fill: '#2b8fd0' } } } });

// ---------------- OPTION ----------------
const series = [];
rsiSeries(rsiAll, 0, 0, true).forEach(s => series.push(s));
series.push({ type: 'line', xAxisIndex: 0, yAxisIndex: 0, data: rsiMarkLine, symbol: 'none', silent: true, lineStyle: { color: '#000', width: 1, type: [4, 3] } });
series.push({ type: 'custom', xAxisIndex: 1, yAxisIndex: 1, data: priceData, renderItem: ohlcRender(1.5), encode: { x: 0, y: [1, 2, 3] }, silent: true, z: 3 });
trendSeries.forEach(s => series.push(s));
series.push({ type: 'line', xAxisIndex: 2, yAxisIndex: 2, data: histAll, symbol: 'none', silent: true, lineStyle: { color: '#2a6f99', width: 1 }, areaStyle: { color: '#4a9fd0', opacity: 1 }, z: 2 });
series.push({ type: 'line', xAxisIndex: 2, yAxisIndex: 2, data: macdAll, symbol: 'none', silent: true, lineStyle: { color: '#000', width: 2 }, z: 4,
  markLine: { symbol: 'none', silent: true, label: { show: false }, animation: false, data: [{ xAxis: maniaStartYear, lineStyle: { color: '#8b008b', width: 1, type: [4, 3] } }] } });
series.push({ type: 'line', xAxisIndex: 2, yAxisIndex: 2, data: signalAll, symbol: 'none', silent: true, lineStyle: { color: '#ff0000', width: 1 }, z: 5 });
rsiSeries(rsiRecent.map((v, i) => [i, v]), 3, 3, false).forEach(s => series.push(s));
series.push({ type: 'custom', xAxisIndex: 4, yAxisIndex: 4, data: miniPriceData, renderItem: ohlcRender(2), encode: { x: 0, y: [1, 2, 3] }, silent: true });
series.push({ type: 'bar', xAxisIndex: 5, yAxisIndex: 5, data: histRecent.map((v, i) => [i, v]), barWidth: 5, silent: true, itemStyle: { color: '#4a9fd0', borderColor: '#1f5f8a', borderWidth: 1 } });
series.push({ type: 'line', xAxisIndex: 5, yAxisIndex: 5, data: macdRecent.map((v, i) => [i, v]), symbol: 'none', silent: true, lineStyle: { color: '#000', width: 2 }, z: 4 });
series.push({ type: 'line', xAxisIndex: 5, yAxisIndex: 5, data: signalRecent.map((v, i) => [i, v]), symbol: 'none', silent: true, lineStyle: { color: '#ff0000', width: 1 }, z: 5 });

const option = {
  animation: false,
  backgroundColor: '#fff',
  grid: grids,
  xAxis: [xMain(0, false), xMain(1, true), xMain(2, true), xMini(3, false), xMini(4, true), xMini(5, true)],
  yAxis: [
    yAx(0, -1.45, 101.45, rsiTicks),
    yAx(1, 1.9617, 4.0766, priceTicks.map(L), logFmt),
    yAx(2, -421.1, 938.6, macdTicks),
    yAx(3, -1.45, 101.45, rsiTicks),
    yAx(4, 3.81699, 4.0568, miniPriceTicks.map(L), logFmt),
    yAx(5, -111.5, 905, miniMacdTicks)
  ],
  series: series,
  graphic: { elements: gfx }
};
const chart = echarts.init(document.getElementById('c'), null, { renderer: 'canvas' });
chart.setOption(option);
</script></body></html>
